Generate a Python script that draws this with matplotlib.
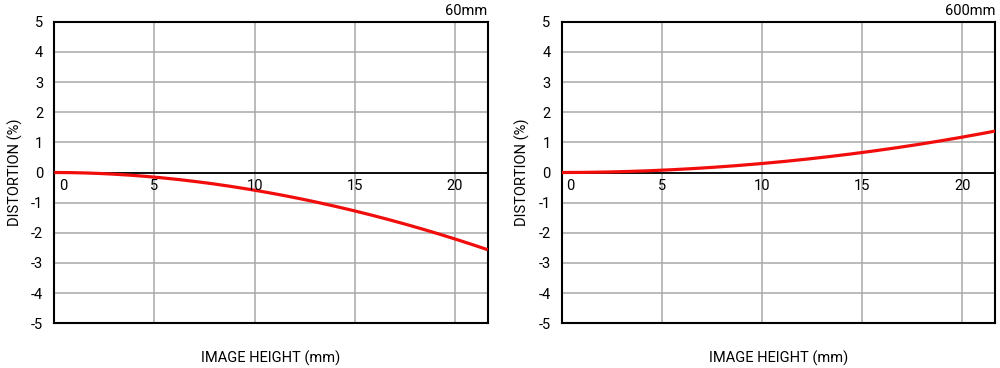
import numpy as np
import matplotlib
matplotlib.use("Agg")
import matplotlib.pyplot as plt

plt.rcParams['font.family'] = ['Roboto', 'DejaVu Sans']
plt.rcParams['axes.unicode_minus'] = False

# image height (mm) and distortion (%)
height = [0, 2.5, 5, 7.5, 10, 12.5, 15, 17.5, 20, 21.63]
dist_60 = [0, -0.02, -0.14, -0.33, -0.59, -0.92, -1.27, -1.71, -2.19, -2.57]
dist_600 = [0, 0.02, 0.08, 0.17, 0.30, 0.46, 0.66, 0.90, 1.18, 1.37]

panels = [("60mm", dist_60), ("600mm", dist_600)]
x_ticks = [0, 5, 10, 15, 20]
y_ticks = [5, 4, 3, 2, 1, 0, -1, -2, -3, -4, -5]

fig = plt.figure(figsize=(10, 3.68), dpi=100)
lefts = [0.0543, 0.5617]
W = 0.4334
bottom = 1 - 323.3 / 368
H = (323.3 - 21.7) / 368
fs = 10.5

for (name, dist), l in zip(panels, lefts):
    ax = fig.add_axes([l, bottom, W, H])
    ax.set_xlim(0, 21.63)
    ax.set_ylim(-5, 5)
    ax.set_xticks(x_ticks)
    ax.set_yticks(y_ticks)
    ax.grid(True, color="#a8a8a8", linewidth=1.1)
    ax.axhline(0, color="black", linewidth=1.3, zorder=2)
    ax.tick_params(axis="both", length=0)
    ax.tick_params(axis="y", labelsize=fs, pad=8)
    ax.set_xticklabels([])
    for s in ax.spines.values():
        s.set_linewidth(1.5)
        s.set_color("black")

    # smooth curve through the read points (terms h^2..h^4, passes through 0)
    h = np.array(height)
    A = np.column_stack([h**2, h**3, h**4])
    coef, *_ = np.linalg.lstsq(A, np.array(dist), rcond=None)
    xs = np.linspace(0, 21.63, 200)
    ys = np.column_stack([xs**2, xs**3, xs**4]) @ coef
    ax.plot(xs, ys, color="#f20d0d", linewidth=2.3, zorder=3,
            solid_capstyle="butt")

    for t in x_ticks:
        xp = 0.45 if t == 0 else t
        ax.text(xp, -0.2, str(t), ha="center", va="top", fontsize=fs, zorder=4)

    ax.set_ylabel("DISTORTION (%)", fontsize=fs, labelpad=6)
    ax.set_xlabel("IMAGE HEIGHT (mm)", fontsize=fs, labelpad=16)
    ax.set_title(name, loc="right", fontsize=fs, pad=5)

fig.savefig("out.png", dpi=100)
